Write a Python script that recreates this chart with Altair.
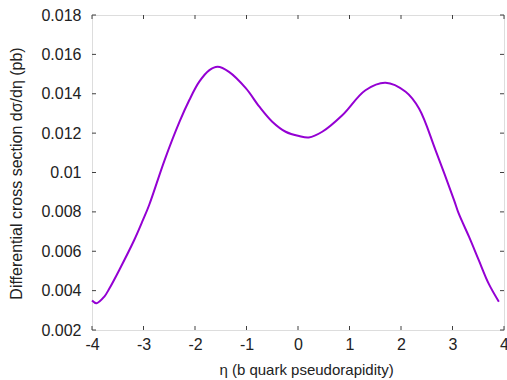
import altair as alt
import pandas as pd

eta = [-4.0, -3.91, -3.76, -3.66, -3.47, -3.18, -3.01, -2.89, -2.59, -2.30, -2.11, -1.92,
       -1.72, -1.56, -1.34, -1.01, -0.75, -0.50, -0.24, 0.02, 0.21, 0.47, 0.86, 1.31,
       1.70, 2.09, 2.35, 2.67, 3.03, 3.12, 3.32, 3.51, 3.70, 3.90]
xsec = [0.0035, 0.00336, 0.0037, 0.00412, 0.00505, 0.00657, 0.00759, 0.00835, 0.01063,
        0.01258, 0.01368, 0.0146, 0.0152, 0.01537, 0.01511, 0.01427, 0.01334, 0.01258,
        0.01207, 0.01185, 0.01178, 0.01207, 0.01291, 0.01418, 0.01456, 0.0141,
        0.01325, 0.01114, 0.0086, 0.00792, 0.00674, 0.00555, 0.00437, 0.00344]
x_ticks = [-4, -3, -2, -1, 0, 1, 2, 3, 4]
y_ticks = [0.002, 0.004, 0.006, 0.008, 0.010, 0.012, 0.014, 0.016, 0.018]

W, H = 412, 315
TL = 4
FONT = "Liberation Sans"
TXT = "#222222"
AX = "#404040"

df = pd.DataFrame({"eta": eta, "xsec": xsec})
dx = pd.DataFrame({"eta": x_ticks})
dy = pd.DataFrame({"xsec": y_ticks})

xs = alt.Scale(domain=[-4, 4], nice=False)
ys = alt.Scale(domain=[0.002, 0.018], nice=False)

xaxis = alt.Axis(values=x_ticks, labelExpr="'' + datum.value",
                 title="η (b quark pseudorapidity)", ticks=False,
                 domain=False, grid=False, labelPadding=6, labelFontSize=16,
                 labelOverlap=False, labelFlush=False,
                 labelFont=FONT, labelColor=TXT, titleFont=FONT, titleFontSize=15,
                 titleFontWeight="normal", titleColor=TXT, titleX=214, titleY=44,
                 titleBaseline="alphabetic")
yaxis = alt.Axis(values=y_ticks, labelExpr="'' + datum.value",
                 title="Differential cross section dσ/dη  (pb)", ticks=False,
                 domain=False, grid=False, labelPadding=11, labelFontSize=16,
                 labelOverlap=False, labelFlush=False,
                 labelFont=FONT, labelColor=TXT, titleFont=FONT, titleFontSize=16,
                 titleFontWeight="normal", titleColor=TXT, titleX=-76, titleY=158,
                 titleBaseline="middle")

X = alt.X("eta:Q", scale=xs, axis=xaxis)
Y = alt.Y("xsec:Q", scale=ys, axis=yaxis)

line = alt.Chart(df).mark_line(color="#9400D3", strokeWidth=2, interpolate="catmull-rom").encode(
    x=X, y=Y)

bottom = alt.Chart(dx).mark_rule(color=AX, strokeWidth=1).encode(
    x=X, y=alt.value(H), y2=alt.value(H - TL))
top = alt.Chart(dx).mark_rule(color=AX, strokeWidth=1).encode(
    x=X, y=alt.value(0), y2=alt.value(TL))
left = alt.Chart(dy).mark_rule(color=AX, strokeWidth=1).encode(
    y=Y, x=alt.value(0), x2=alt.value(TL))
right = alt.Chart(dy).mark_rule(color=AX, strokeWidth=1).encode(
    y=Y, x=alt.value(W), x2=alt.value(W - TL))

chart = alt.layer(line, bottom, top, left, right).properties(
    width=W, height=H,
    autosize=alt.AutoSizeParams(type="none"),
    padding={"left": 92, "top": 15, "right": 3, "bottom": 50},
).configure_view(stroke=AX, strokeWidth=1).configure(background="white")

chart.save("out.html", embed_options={"renderer": "svg", "actions": False})
